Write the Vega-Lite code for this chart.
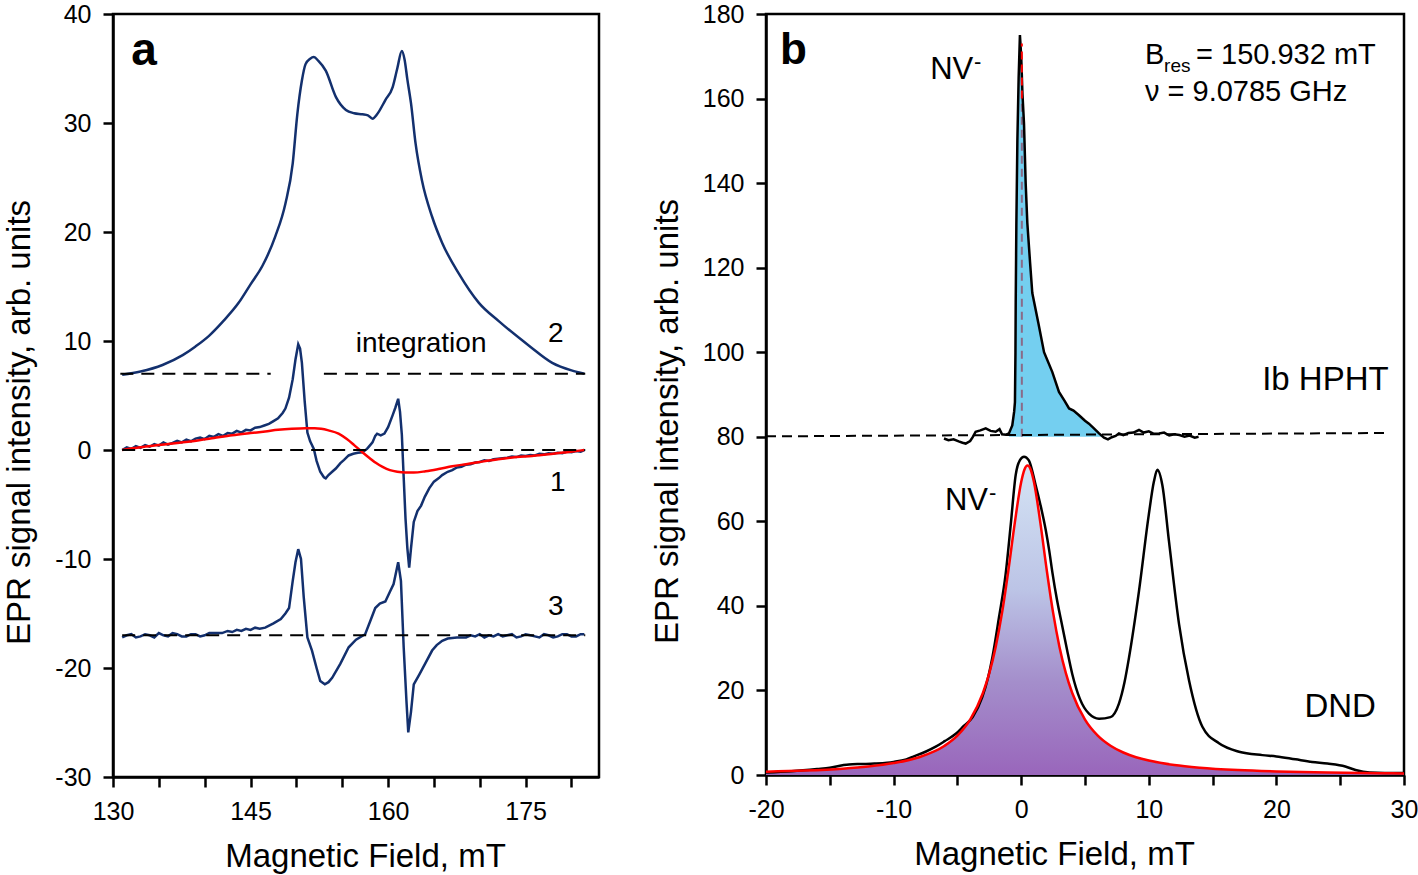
{
"$schema": "https://vega.github.io/schema/vega-lite/v6.json",
"padding": {"left": 2, "top": 0, "right": 0, "bottom": 0},
"spacing": 49,
"background": "white",
"config": {
 "font": "Liberation Sans",
 "view": {"stroke": "black", "strokeWidth": 2.5},
 "axis": {"grid": false, "domainColor": "black", "domainWidth": 2.5, "tickColor": "black", "tickWidth": 2.5, "tickSize": 10, "labelFont": "Liberation Sans", "labelFontSize": 25, "labelColor": "black", "titleFont": "Liberation Sans", "titleFontSize": 33, "titleFontWeight": "normal", "titleColor": "black", "labelOverlap": false, "labelFlush": false, "labelBound": false},
 "axisX": {"titlePadding": 16, "labelPadding": 12},
 "axisY": {"titlePadding": 18, "labelPadding": 12, "titleY": 408}
},
"datasets": {
 "a2": [{"x":131,"y":6.9},{"x":133,"y":7.2},{"x":135.4,"y":7.8},{"x":137.6,"y":8.7},{"x":139,"y":9.5},{"x":140.5,"y":10.5},{"x":142,"y":11.8},{"x":143.7,"y":13.5},{"x":145,"y":15.2},{"x":146.3,"y":16.9},{"x":147.7,"y":19.6},{"x":148.8,"y":22.6},{"x":149.6,"y":26.3},{"x":150.1,"y":30.8},{"x":150.6,"y":33.9},{"x":151,"y":35.4},{"x":151.5,"y":35.9},{"x":151.9,"y":36.05},{"x":152.4,"y":35.7},{"x":153.2,"y":34.8},{"x":154.3,"y":32.4},{"x":155.4,"y":31.2},{"x":156.3,"y":30.9},{"x":157.2,"y":30.8},{"x":157.8,"y":30.7},{"x":158.3,"y":30.4},{"x":158.8,"y":30.8},{"x":159.7,"y":32.1},{"x":160.5,"y":33.3},{"x":161.0,"y":35.0},{"x":161.5,"y":36.6},{"x":161.8,"y":35.8},{"x":162.1,"y":34.0},{"x":162.5,"y":31.8},{"x":163,"y":28.1},{"x":163.7,"y":24.7},{"x":164.8,"y":21.4},{"x":165.9,"y":19.0},{"x":167.7,"y":16.2},{"x":169.9,"y":13.5},{"x":172.1,"y":11.8},{"x":175.4,"y":9.55},{"x":177.9,"y":8.0},{"x":180,"y":7.3},{"x":181.4,"y":7.0}],
 "a1": [{"x":131,"y":0.0},{"x":131.5,"y":0.25},{"x":132,"y":0.1},{"x":132.5,"y":0.35},{"x":133,"y":0.2},{"x":133.5,"y":0.45},{"x":134,"y":0.3},{"x":134.5,"y":0.55},{"x":135,"y":0.4},{"x":135.5,"y":0.7},{"x":136,"y":0.5},{"x":136.5,"y":0.65},{"x":137,"y":0.85},{"x":137.5,"y":0.7},{"x":138,"y":0.95},{"x":138.5,"y":0.8},{"x":139,"y":1.05},{"x":139.5,"y":1.15},{"x":140,"y":1.0},{"x":140.5,"y":1.3},{"x":141,"y":1.2},{"x":141.5,"y":1.45},{"x":142,"y":1.3},{"x":142.5,"y":1.55},{"x":143,"y":1.5},{"x":143.5,"y":1.75},{"x":144,"y":1.6},{"x":144.5,"y":1.85},{"x":145,"y":1.8},{"x":145.5,"y":2.05},{"x":146,"y":2.1},{"x":146.5,"y":2.25},{"x":147,"y":2.4},{"x":147.5,"y":2.65},{"x":148,"y":2.9},{"x":148.5,"y":3.4},{"x":148.8,"y":3.8},{"x":149.2,"y":4.8},{"x":149.6,"y":6.5},{"x":149.9,"y":8.3},{"x":150.2,"y":9.7},{"x":150.4,"y":9.3},{"x":150.6,"y":8.0},{"x":150.9,"y":4.5},{"x":151.2,"y":1.6},{"x":151.5,"y":0.8},{"x":151.9,"y":0.1},{"x":152.2,"y":-1.0},{"x":152.6,"y":-2.0},{"x":153.0,"y":-2.5},{"x":153.2,"y":-2.6},{"x":153.5,"y":-2.3},{"x":153.9,"y":-2.0},{"x":154.3,"y":-1.7},{"x":154.8,"y":-1.2},{"x":155.2,"y":-0.9},{"x":155.7,"y":-0.5},{"x":156.2,"y":-0.35},{"x":156.7,"y":-0.25},{"x":157.2,"y":-0.2},{"x":157.7,"y":0.1},{"x":158.0,"y":0.4},{"x":158.3,"y":0.7},{"x":158.6,"y":1.3},{"x":158.8,"y":1.5},{"x":159.2,"y":1.35},{"x":159.6,"y":1.5},{"x":160.0,"y":2.1},{"x":160.5,"y":3.2},{"x":160.8,"y":3.9},{"x":161.1,"y":4.7},{"x":161.3,"y":3.5},{"x":161.5,"y":1.4},{"x":161.7,"y":-2.5},{"x":161.9,"y":-6.3},{"x":162.1,"y":-9.0},{"x":162.3,"y":-10.8},{"x":162.5,"y":-9.0},{"x":162.8,"y":-6.6},{"x":163.2,"y":-5.6},{"x":163.6,"y":-5.1},{"x":164.0,"y":-4.3},{"x":164.5,"y":-3.5},{"x":165.0,"y":-2.9},{"x":165.5,"y":-2.6},{"x":165.9,"y":-2.3},{"x":166.5,"y":-2.0},{"x":167,"y":-1.85},{"x":167.5,"y":-1.6},{"x":168,"y":-1.55},{"x":168.5,"y":-1.35},{"x":169,"y":-1.3},{"x":169.5,"y":-1.15},{"x":170,"y":-1.1},{"x":170.5,"y":-0.95},{"x":171,"y":-1.0},{"x":171.5,"y":-0.85},{"x":172,"y":-0.8},{"x":172.5,"y":-0.75},{"x":173,"y":-0.7},{"x":173.5,"y":-0.6},{"x":174,"y":-0.65},{"x":174.5,"y":-0.5},{"x":175,"y":-0.55},{"x":175.5,"y":-0.45},{"x":176,"y":-0.5},{"x":176.5,"y":-0.35},{"x":177,"y":-0.4},{"x":177.5,"y":-0.3},{"x":178,"y":-0.35},{"x":178.5,"y":-0.25},{"x":179,"y":-0.3},{"x":179.5,"y":-0.15},{"x":180,"y":-0.2},{"x":180.5,"y":-0.1},{"x":181,"y":-0.15},{"x":181.4,"y":0.0}],
 "afit": [{"x":131,"y":0},{"x":133,"y":0.25},{"x":135,"y":0.45},{"x":137,"y":0.65},{"x":139.4,"y":0.9},{"x":141,"y":1.1},{"x":143,"y":1.35},{"x":145,"y":1.55},{"x":146.6,"y":1.7},{"x":148,"y":1.85},{"x":149.5,"y":1.95},{"x":151,"y":2.0},{"x":152,"y":2.0},{"x":152.7,"y":1.95},{"x":153.5,"y":1.8},{"x":154.6,"y":1.5},{"x":155.5,"y":1.0},{"x":156.3,"y":0.45},{"x":157.2,"y":-0.2},{"x":158,"y":-0.75},{"x":158.7,"y":-1.2},{"x":159.4,"y":-1.55},{"x":160.2,"y":-1.85},{"x":161,"y":-2.0},{"x":161.9,"y":-2.07},{"x":162.8,"y":-2.07},{"x":164.1,"y":-1.95},{"x":165.5,"y":-1.75},{"x":167,"y":-1.5},{"x":168.5,"y":-1.3},{"x":170,"y":-1.1},{"x":172,"y":-0.85},{"x":174,"y":-0.65},{"x":175.7,"y":-0.55},{"x":177.5,"y":-0.4},{"x":179.5,"y":-0.2},{"x":181.4,"y":0}],
 "a3": [{"x":131,"y":-17.2},{"x":131.5,"y":-17.0},{"x":132,"y":-16.9},{"x":132.5,"y":-17.2},{"x":133,"y":-17.1},{"x":133.5,"y":-16.9},{"x":134,"y":-17.0},{"x":134.5,"y":-17.2},{"x":135,"y":-16.8},{"x":135.5,"y":-17.0},{"x":136,"y":-17.1},{"x":136.5,"y":-16.8},{"x":137,"y":-16.9},{"x":137.5,"y":-17.1},{"x":138,"y":-17.1},{"x":138.5,"y":-16.9},{"x":139,"y":-16.9},{"x":139.5,"y":-17.1},{"x":140,"y":-17.0},{"x":140.5,"y":-16.8},{"x":141,"y":-16.8},{"x":141.9,"y":-16.8},{"x":142.5,"y":-16.6},{"x":143,"y":-16.7},{"x":143.5,"y":-16.5},{"x":144,"y":-16.6},{"x":144.5,"y":-16.4},{"x":145,"y":-16.5},{"x":145.5,"y":-16.3},{"x":146,"y":-16.4},{"x":146.6,"y":-16.3},{"x":147.5,"y":-15.9},{"x":148.3,"y":-15.5},{"x":148.8,"y":-15.0},{"x":149.2,"y":-14.5},{"x":149.6,"y":-12.0},{"x":149.9,"y":-10.3},{"x":150.2,"y":-9.1},{"x":150.5,"y":-10.0},{"x":150.8,"y":-13.5},{"x":151.2,"y":-17.2},{"x":151.7,"y":-18.4},{"x":152.2,"y":-20.0},{"x":152.6,"y":-21.2},{"x":153.1,"y":-21.5},{"x":153.5,"y":-21.3},{"x":153.9,"y":-20.9},{"x":154.8,"y":-19.6},{"x":155.7,"y":-18.1},{"x":156.5,"y":-17.4},{"x":157.5,"y":-16.9},{"x":158.1,"y":-15.6},{"x":158.6,"y":-14.5},{"x":159.1,"y":-14.1},{"x":159.7,"y":-13.9},{"x":160.2,"y":-13.0},{"x":160.6,"y":-12.3},{"x":161.1,"y":-10.3},{"x":161.4,"y":-12.0},{"x":161.7,"y":-18.1},{"x":162.0,"y":-23.0},{"x":162.2,"y":-25.9},{"x":162.5,"y":-24.0},{"x":162.8,"y":-21.5},{"x":163.4,"y":-20.6},{"x":164.1,"y":-19.5},{"x":164.8,"y":-18.4},{"x":165.3,"y":-17.9},{"x":165.9,"y":-17.5},{"x":166.5,"y":-17.3},{"x":167.5,"y":-17.2},{"x":168.5,"y":-17.2},{"x":169,"y":-17.0},{"x":169.5,"y":-17.1},{"x":170,"y":-16.9},{"x":170.5,"y":-17.2},{"x":171,"y":-17.0},{"x":171.5,"y":-17.1},{"x":172,"y":-16.9},{"x":172.5,"y":-17.1},{"x":173,"y":-17.0},{"x":173.5,"y":-16.9},{"x":174,"y":-17.2},{"x":174.5,"y":-17.1},{"x":175,"y":-16.9},{"x":175.5,"y":-17.0},{"x":176,"y":-17.1},{"x":176.5,"y":-17.2},{"x":177,"y":-16.9},{"x":177.5,"y":-17.0},{"x":178,"y":-17.2},{"x":178.5,"y":-17.1},{"x":179,"y":-16.9},{"x":179.5,"y":-16.9},{"x":180,"y":-17.1},{"x":180.5,"y":-17.1},{"x":181,"y":-16.9},{"x":181.4,"y":-16.9}],
 "abase": [{"x":130.8,"x2":147.2,"y":7},{"x":153,"x2":181.5,"y":7},{"x":131,"x2":181.5,"y":0},{"x":131,"x2":181.5,"y":-17}],
 "atxt": [{"x":163.6,"y":9.7,"t":"integration"},{"x":178.3,"y":10.6,"t":"2"},{"x":178.5,"y":-3.0,"t":"1"},{"x":178.3,"y":-14.4,"t":"3"}],
 "alab": [{"x":132.0,"y":36.6,"t":"a"}],
 "bH": [{"x":-6.05,"y":79.6},{"x":-5.7,"y":79.2},{"x":-5.3,"y":79.4},{"x":-4.9,"y":78.9},{"x":-4.6,"y":78.6},{"x":-4.35,"y":78.4},{"x":-4.0,"y":79.0},{"x":-3.8,"y":79.9},{"x":-3.57,"y":81.2},{"x":-3.2,"y":81.5},{"x":-2.78,"y":82.0},{"x":-2.4,"y":81.4},{"x":-2.0,"y":81.2},{"x":-1.7,"y":81.8},{"x":-1.5,"y":80.6},{"x":-1.2,"y":80.5},{"x":-0.96,"y":80.8},{"x":-0.7,"y":82.7},{"x":-0.55,"y":86},{"x":-0.49,"y":88.2},{"x":-0.45,"y":100},{"x":-0.43,"y":111.8},{"x":-0.38,"y":130},{"x":-0.3,"y":150},{"x":-0.2,"y":165},{"x":-0.1,"y":175},{"x":0.0,"y":170},{"x":0.1,"y":161},{"x":0.22,"y":154},{"x":0.35,"y":140},{"x":0.48,"y":130.6},{"x":0.7,"y":121},{"x":0.87,"y":114},{"x":1.34,"y":107},{"x":1.79,"y":100},{"x":2.44,"y":95.3},{"x":2.96,"y":90.6},{"x":3.4,"y":88.5},{"x":3.75,"y":86.7},{"x":4.1,"y":86.2},{"x":4.53,"y":85.1},{"x":5.0,"y":83.8},{"x":5.31,"y":83.1},{"x":5.7,"y":82.0},{"x":6.1,"y":80.8},{"x":6.49,"y":79.8},{"x":6.8,"y":79.4},{"x":7.1,"y":79.9},{"x":7.4,"y":80.2},{"x":7.66,"y":80.8},{"x":8.0,"y":80.4},{"x":8.4,"y":80.9},{"x":8.8,"y":81.0},{"x":9.23,"y":81.6},{"x":9.6,"y":81.0},{"x":10.0,"y":81.3},{"x":10.4,"y":80.7},{"x":10.8,"y":80.8},{"x":11.2,"y":81.0},{"x":11.6,"y":80.3},{"x":12.0,"y":80.6},{"x":12.4,"y":80.4},{"x":12.8,"y":80.0},{"x":13.2,"y":80.3},{"x":13.6,"y":79.8},{"x":13.9,"y":80.0}],
 "bHfill": [{"x":-0.96,"y":80.5},{"x":-0.7,"y":82.7},{"x":-0.55,"y":86},{"x":-0.49,"y":88.2},{"x":-0.45,"y":100},{"x":-0.43,"y":111.8},{"x":-0.38,"y":130},{"x":-0.3,"y":150},{"x":-0.2,"y":165},{"x":-0.1,"y":175},{"x":0.0,"y":170},{"x":0.1,"y":161},{"x":0.22,"y":154},{"x":0.35,"y":140},{"x":0.48,"y":130.6},{"x":0.7,"y":121},{"x":0.87,"y":114},{"x":1.34,"y":107},{"x":1.79,"y":100},{"x":2.44,"y":95.3},{"x":2.96,"y":90.6},{"x":3.4,"y":88.5},{"x":3.75,"y":86.7},{"x":4.1,"y":86.2},{"x":4.53,"y":85.1},{"x":5.0,"y":83.8},{"x":5.31,"y":83.1},{"x":5.7,"y":82.0},{"x":6.1,"y":80.8},{"x":6.4,"y":80.2}],
 "bD": [{"x":-20,"y":0.6},{"x":-18,"y":0.9},{"x":-16,"y":1.4},{"x":-15,"y":1.7},{"x":-14,"y":2.3},{"x":-13.5,"y":2.5},{"x":-12.5,"y":2.6},{"x":-11.5,"y":2.7},{"x":-10.5,"y":2.9},{"x":-10,"y":3.1},{"x":-9,"y":3.7},{"x":-8.5,"y":4.3},{"x":-7.5,"y":5.5},{"x":-6.7,"y":6.7},{"x":-6,"y":8.0},{"x":-5.1,"y":9.8},{"x":-4.5,"y":11.6},{"x":-3.8,"y":13.7},{"x":-3.05,"y":18.4},{"x":-2.6,"y":23},{"x":-2.26,"y":27.8},{"x":-1.74,"y":37.3},{"x":-1.22,"y":47.5},{"x":-0.82,"y":59.2},{"x":-0.43,"y":71},{"x":-0.1,"y":74.5},{"x":0.22,"y":75.3},{"x":0.6,"y":74.4},{"x":1.13,"y":68.6},{"x":1.5,"y":64.0},{"x":1.92,"y":58.0},{"x":2.2,"y":53.0},{"x":2.44,"y":48.0},{"x":2.8,"y":41.5},{"x":3.22,"y":35.2},{"x":3.6,"y":29.5},{"x":4.0,"y":23.9},{"x":4.6,"y":18.0},{"x":5.31,"y":14.5},{"x":6.1,"y":13.3},{"x":7.0,"y":13.7},{"x":7.66,"y":16.9},{"x":8.1,"y":22},{"x":8.45,"y":27.8},{"x":9.23,"y":43.5},{"x":10.0,"y":61.6},{"x":10.4,"y":69.4},{"x":10.67,"y":72.2},{"x":11.06,"y":68.6},{"x":11.58,"y":55.3},{"x":12.37,"y":35.7},{"x":13.15,"y":22.4},{"x":14.2,"y":11.4},{"x":15.5,"y":7.5},{"x":17.07,"y":5.5},{"x":18.9,"y":4.7},{"x":20,"y":4.4},{"x":21.5,"y":3.7},{"x":22.8,"y":3.1},{"x":24,"y":2.7},{"x":25.4,"y":2.0},{"x":26.2,"y":1.2},{"x":27.3,"y":0.6},{"x":28.5,"y":0.5},{"x":30,"y":0.5}],
 "bfit": [{"x":-20,"y":0.76},{"x":-17,"y":1.04},{"x":-14,"y":1.5},{"x":-12,"y":2.01},{"x":-10,"y":2.82},{"x":-8,"y":4.21},{"x":-6,"y":6.92},{"x":-5,"y":9.31},{"x":-4,"y":13.1},{"x":-3,"y":19.4},{"x":-2.5,"y":24.1},{"x":-2,"y":30.3},{"x":-1.5,"y":38.4},{"x":-1,"y":48.5},{"x":-0.5,"y":59.7},{"x":0,"y":69.3},{"x":0.25,"y":72.2},{"x":0.5,"y":73.2},{"x":0.75,"y":72.2},{"x":1,"y":69.3},{"x":1.5,"y":59.7},{"x":2,"y":48.5},{"x":2.5,"y":38.4},{"x":3,"y":30.3},{"x":3.5,"y":24.1},{"x":4,"y":19.4},{"x":5,"y":13.1},{"x":6,"y":9.31},{"x":7,"y":6.92},{"x":8,"y":5.32},{"x":9,"y":4.21},{"x":10,"y":3.41},{"x":12,"y":2.36},{"x":14,"y":1.73},{"x":17,"y":1.17},{"x":20,"y":0.84},{"x":24,"y":0.58},{"x":28,"y":0.42},{"x":30,"y":0.37}],
 "bbase": [{"x":-20,"x2":28.8,"y":80.1,"y2":80.9}],
 "bvert": [{"x":0.05,"y":80,"y2":160}],
 "bvertred": [{"x":0.05,"y":160,"y2":173}],
 "blab": [{"x":-18.9,"y":171.3,"t":"b"}],
 "bNV": [{"x":-3.76,"y":166.8,"t":"NV"},{"x":-2.6,"y":64.7,"t":"NV"}],
 "bNVm": [{"x":-3.69,"y":168.6,"t":"-"},{"x":-2.52,"y":66.6,"t":"-"}],
 "bname": [{"x":28.8,"y":93.4,"t":"Ib HPHT"},{"x":27.8,"y":16.0,"t":"DND"}],
 "bpar": [{"x":9.7,"y":168.2,"t":"B"},{"x":13.7,"y":168.2,"t":"= 150.932 mT"},{"x":9.7,"y":159.5,"t":"ν = 9.0785 GHz"}],
 "bres": [{"x":11.2,"y":166.2,"t":"res"}]
},
"hconcat": [
 {
  "width": 486, "height": 763,
  "encoding": {
   "x": {"field": "x", "type": "quantitative", "scale": {"domain": [130, 183], "nice": false}, "title": "Magnetic Field, mT", "axis": {"values": [130,135,140,145,150,155,160,165,170,175,180], "labelExpr": "(datum.value - 130) % 15 == 0 ? '' + datum.value : ''", "titleX": 252}},
   "y": {"field": "y", "type": "quantitative", "scale": {"domain": [-30, 40], "nice": false}, "title": "EPR signal intensity, arb. units", "axis": {"values": [-30,-20,-10,0,10,20,30,40], "labelExpr": "'' + datum.value"}}
  },
  "layer": [
   {"data": {"name": "a2"}, "mark": {"type": "line", "color": "#13306e", "strokeWidth": 2.5, "interpolate": "monotone"}},
   {"data": {"name": "a1"}, "mark": {"type": "line", "color": "#13306e", "strokeWidth": 2.5}},
   {"data": {"name": "afit"}, "mark": {"type": "line", "color": "#ff0000", "strokeWidth": 2.5, "interpolate": "monotone"}},
   {"data": {"name": "a3"}, "mark": {"type": "line", "color": "#13306e", "strokeWidth": 2.5}},
   {"data": {"name": "abase"}, "mark": {"type": "rule", "color": "black", "strokeWidth": 2, "strokeDash": [13, 8]}, "encoding": {"x2": {"field": "x2"}}},
   {"data": {"name": "atxt"}, "mark": {"type": "text", "fontSize": 28, "font": "Liberation Sans", "color": "black", "align": "center", "baseline": "middle"}, "encoding": {"text": {"field": "t"}}},
   {"data": {"name": "alab"}, "mark": {"type": "text", "fontSize": 46, "fontWeight": "bold", "font": "Liberation Sans", "color": "black", "align": "left", "baseline": "middle"}, "encoding": {"text": {"field": "t"}}}
  ]
 },
 {
  "width": 638, "height": 761,
  "encoding": {
   "x": {"field": "x", "type": "quantitative", "scale": {"domain": [-20, 30], "nice": false}, "title": "Magnetic Field, mT", "axis": {"values": [-20,-15,-10,-5,0,5,10,15,20,25,30], "labelExpr": "datum.value % 10 == 0 ? '' + datum.value : ''", "titleX": 288}},
   "y": {"field": "y", "type": "quantitative", "scale": {"domain": [0, 180], "nice": false}, "title": "EPR signal intensity, arb. units", "axis": {"values": [0,20,40,60,80,100,120,140,160,180], "labelExpr": "'' + datum.value", "titleY": 407}}
  },
  "layer": [
   {"data": {"name": "bfit"}, "mark": {"type": "area", "interpolate": "monotone", "color": {"gradient": "linear", "x1": 0, "y1": 1, "x2": 0, "y2": 0, "stops": [{"offset": 0, "color": "#9966bb"}, {"offset": 0.3, "color": "#a48ecb"}, {"offset": 0.6, "color": "#bcc4e6"}, {"offset": 1, "color": "#d4e3f4"}]}}},
   {"data": {"name": "bD"}, "mark": {"type": "line", "color": "black", "strokeWidth": 2.5, "interpolate": "monotone"}},
   {"data": {"name": "bfit"}, "mark": {"type": "line", "color": "#ff0000", "strokeWidth": 2.5, "interpolate": "monotone"}},
   {"data": {"name": "bHfill"}, "mark": {"type": "area", "color": "#74cff0"}, "encoding": {"y2": {"datum": 80}}},
   {"data": {"name": "bvert"}, "mark": {"type": "rule", "color": "#8a6b88", "strokeWidth": 2, "strokeDash": [8, 5]}, "encoding": {"y2": {"field": "y2"}}},
   {"data": {"name": "bH"}, "mark": {"type": "line", "color": "black", "strokeWidth": 2.5}},
   {"data": {"name": "bvertred"}, "mark": {"type": "rule", "color": "#ff0000", "strokeWidth": 2, "strokeDash": [8, 5]}, "encoding": {"y2": {"field": "y2"}}},
   {"data": {"name": "bbase"}, "mark": {"type": "rule", "color": "black", "strokeWidth": 2, "strokeDash": [10, 6]}, "encoding": {"x2": {"field": "x2"}, "y2": {"field": "y2"}}},
   {"data": {"name": "blab"}, "mark": {"type": "text", "fontSize": 44, "fontWeight": "bold", "font": "Liberation Sans", "color": "black", "align": "left", "baseline": "middle"}, "encoding": {"text": {"field": "t"}}},
   {"data": {"name": "bNV"}, "mark": {"type": "text", "fontSize": 31, "font": "Liberation Sans", "color": "black", "align": "right", "baseline": "middle"}, "encoding": {"text": {"field": "t"}}},
   {"data": {"name": "bNVm"}, "mark": {"type": "text", "fontSize": 22, "font": "Liberation Sans", "color": "black", "align": "left", "baseline": "middle"}, "encoding": {"text": {"field": "t"}}},
   {"data": {"name": "bname"}, "mark": {"type": "text", "fontSize": 33, "font": "Liberation Sans", "color": "black", "align": "right", "baseline": "middle"}, "encoding": {"text": {"field": "t"}}},
   {"data": {"name": "bpar"}, "mark": {"type": "text", "fontSize": 29, "font": "Liberation Sans", "color": "black", "align": "left", "baseline": "alphabetic"}, "encoding": {"text": {"field": "t"}}},
   {"data": {"name": "bres"}, "mark": {"type": "text", "fontSize": 19, "font": "Liberation Sans", "color": "black", "align": "left", "baseline": "alphabetic"}, "encoding": {"text": {"field": "t"}}}
  ]
 }
]
}
